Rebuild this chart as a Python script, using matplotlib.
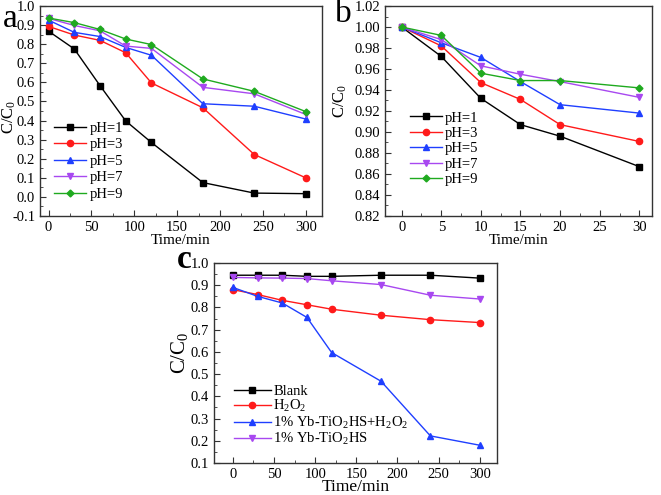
import numpy as np
import matplotlib
matplotlib.use("Agg")
import matplotlib.pyplot as plt
from matplotlib.ticker import MultipleLocator, FormatStrFormatter

plt.rcParams['font.family'] = ['Liberation Serif', 'DejaVu Serif']
plt.rcParams['mathtext.fontset'] = 'custom'
plt.rcParams['mathtext.rm'] = 'Liberation Serif'
plt.rcParams['mathtext.it'] = 'Liberation Serif:italic'

# panel a: effect of pH over 300 min
t_a = [0, 30, 60, 90, 120, 180, 240, 300]
ph1_a = [0.868, 0.775, 0.583, 0.398, 0.285, 0.075, 0.020, 0.017]
ph3_a = [0.893, 0.848, 0.820, 0.755, 0.597, 0.467, 0.222, 0.100]
ph5_a = [0.926, 0.862, 0.840, 0.783, 0.742, 0.488, 0.475, 0.408]
ph7_a = [0.935, 0.898, 0.870, 0.790, 0.778, 0.574, 0.540, 0.432]
ph9_a = [0.937, 0.913, 0.877, 0.827, 0.798, 0.618, 0.553, 0.447]

# panel b: effect of pH, first 30 min
t_b = [0, 5, 10, 15, 20, 30]
ph1_b = [1.000, 0.972, 0.932, 0.907, 0.896, 0.867]
ph3_b = [1.000, 0.982, 0.947, 0.931, 0.907, 0.891]
ph5_b = [1.000, 0.985, 0.971, 0.948, 0.926, 0.918]
ph7_b = [1.000, 0.988, 0.963, 0.955, 0.948, 0.933]
ph9_b = [1.000, 0.992, 0.956, 0.949, 0.949, 0.942]

# panel c: controls
t_c = [0, 30, 60, 90, 120, 180, 240, 300]
blank_c = [0.945, 0.945, 0.945, 0.940, 0.940, 0.945, 0.945, 0.932]
h2o2_c = [0.880, 0.858, 0.832, 0.812, 0.792, 0.765, 0.745, 0.732]
yb_h2o2_c = [0.890, 0.850, 0.820, 0.755, 0.597, 0.468, 0.222, 0.180]
yb_c = [0.935, 0.933, 0.932, 0.930, 0.920, 0.903, 0.855, 0.838]

ph_labels = ['pH=1', 'pH=3', 'pH=5', 'pH=7', 'pH=9']
c_labels = ['Blank', 'H$_2$O$_2$', '1% Yb-TiO$_2$HS+H$_2$O$_2$', '1% Yb-TiO$_2$HS']

kleur = ['#000000', '#ff1a1a', '#1f3fff', '#a848f0', '#1faa1f']
oznake = ['s', 'o', '^', 'v', 'D']

W, H = 661, 495
fig = plt.figure(figsize=(W / 100, H / 100), dpi=100)


def px_axes(left, top, right, bottom):
    return fig.add_axes([left / W, 1 - bottom / H, (right - left) / W, (bottom - top) / H])


def uredi(ax):
    for s in ax.spines.values():
        s.set_color('#333333')
        s.set_linewidth(1.0)
    ax.tick_params(which='both', direction='in', top=False, right=False,
                   labelsize=10.5, color='#333333')
    ax.tick_params(which='major', length=4)
    ax.tick_params(which='minor', length=2)


def crtaj(ax, t, serije, imena, ms):
    for i, y in enumerate(serije):
        m = oznake[i]
        ax.plot(t, y, color=kleur[i], marker=m, lw=1.0,
                ms=ms if m != 'D' else ms - 1, label=imena[i])


# a
ax = px_axes(40, 6, 322, 216)
crtaj(ax, t_a, [ph1_a, ph3_a, ph5_a, ph7_a, ph9_a], ph_labels, 4.5)
ax.set_xlim(-10, 319)
ax.set_ylim(-0.1, 1.0)
ax.xaxis.set_major_locator(MultipleLocator(50))
ax.xaxis.set_minor_locator(MultipleLocator(25))
ax.yaxis.set_major_locator(MultipleLocator(0.1))
ax.yaxis.set_minor_locator(MultipleLocator(0.05))
ax.yaxis.set_major_formatter(FormatStrFormatter('%.1f'))
uredi(ax)
ax.set_xlabel('Time/min', fontsize=11, labelpad=0)
ax.set_ylabel('C/C$_0$', fontsize=12)
ax.yaxis.set_label_coords(-0.078, 0.47)
ax.legend(loc='upper left', bbox_to_anchor=(0.02, 0.49), frameon=False,
          fontsize=10.5, handlelength=2.2, handletextpad=0.2, labelspacing=0.22,
          borderpad=0.1)
fig.text(3 / W, 1 - 27 / H, 'a', fontsize=24, va='baseline')

# b
ax = px_axes(385, 6, 652, 216)
crtaj(ax, t_b, [ph1_b, ph3_b, ph5_b, ph7_b, ph9_b], ph_labels, 4.5)
ax.set_xlim(-2.1, 31.6)
ax.set_ylim(0.82, 1.02)
ax.xaxis.set_major_locator(MultipleLocator(5))
ax.xaxis.set_minor_locator(MultipleLocator(2.5))
ax.yaxis.set_major_locator(MultipleLocator(0.02))
ax.yaxis.set_minor_locator(MultipleLocator(0.01))
ax.yaxis.set_major_formatter(FormatStrFormatter('%.2f'))
uredi(ax)
ax.set_xlabel('Time/min', fontsize=11, labelpad=0)
ax.set_ylabel('C/C$_0$', fontsize=12)
ax.yaxis.set_label_coords(-0.135, 0.55)
ax.legend(loc='upper left', bbox_to_anchor=(0.06, 0.54), frameon=False,
          fontsize=10.5, handlelength=2.2, handletextpad=0.2, labelspacing=0.15,
          borderpad=0.1)
fig.text(335 / W, 1 - 22 / H, 'b', fontsize=24, va='baseline')

# c
ax = px_axes(214, 263, 497, 463)
crtaj(ax, t_c, [blank_c, h2o2_c, yb_h2o2_c, yb_c], c_labels, 4.5)
ax.set_xlim(-23, 321)
ax.set_ylim(0.1, 1.0)
ax.xaxis.set_major_locator(MultipleLocator(50))
ax.xaxis.set_minor_locator(MultipleLocator(25))
ax.yaxis.set_major_locator(MultipleLocator(0.1))
ax.yaxis.set_minor_locator(MultipleLocator(0.05))
ax.yaxis.set_major_formatter(FormatStrFormatter('%.1f'))
uredi(ax)
ax.set_xlabel('Time/min', fontsize=12.5, labelpad=-1)
ax.set_ylabel('C/C$_0$', fontsize=15)
ax.yaxis.set_label_coords(-0.085, 0.55)
ax.legend(loc='upper left', bbox_to_anchor=(0.04, 0.435), frameon=False,
          fontsize=10.5, handlelength=2.5, handletextpad=0.2, labelspacing=0.02,
          borderpad=0.1)
fig.text(177 / W, 1 - 268 / H, 'c', fontsize=24, fontweight='bold', va='baseline')

fig.savefig('out.png', dpi=100)
